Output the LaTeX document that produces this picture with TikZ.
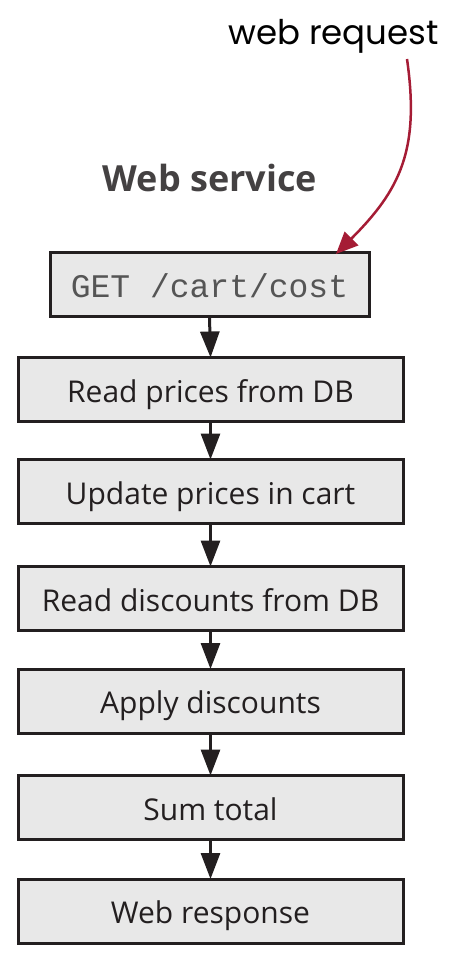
\documentclass[tikz,border=0pt]{standalone}
\usepackage{fontspec}
\setmainfont{Open Sans}
\newfontfamily\monof{Liberation Mono}
\newfontfamily\handf{Poppins}
\usetikzlibrary{arrows.meta}
\definecolor{boxfill}{HTML}{E8E8E8}
\definecolor{boxline}{HTML}{231F20}
\definecolor{txt}{HTML}{231F20}
\definecolor{reqred}{HTML}{A51C35}
\definecolor{monogray}{HTML}{555555}
\tikzset{
  stepbox/.style={draw=boxline, line width=3pt, fill=boxfill, minimum width=385pt, minimum height=64pt, inner sep=0pt, text height=28pt, text depth=3pt, text=txt, font=\fontsize{30}{32}\selectfont},
  getbox/.style={stepbox, minimum width=319pt, minimum height=63pt, text=monogray, font=\monof\fontsize{33}{35}\selectfont},
  flow/.style={draw=boxline, line width=3pt, -{Triangle[length=26pt,width=19pt]}, shorten >=-1.5pt},
}
\begin{document}
\begin{tikzpicture}[x=1pt,y=1pt]
\useasboundingbox (0,0) rectangle (466,-965);
\node[font=\handf\fontsize{34}{36}\selectfont, text=black, anchor=base] (req) at (333.5,-45) {web request};
\node[font=\bfseries\fontsize{36}{38}\selectfont, text=txt!85!white, anchor=base] (ws) at (210,-192) {Web service};
\node[getbox] (get) at (209.5,-284.5) {GET /cart/cost};
\node[stepbox] (b1) at (210.5,-389.5) {Read prices from DB};
\node[stepbox] (b2) at (210.5,-491.5) {Update prices in cart};
\node[stepbox] (b3) at (210.5,-598.5) {Read discounts from DB};
\node[stepbox] (b4) at (210.5,-701) {Apply discounts};
\node[stepbox] (b5) at (210.5,-807.5) {Sum total};
\node[stepbox] (b6) at (210.5,-911) {Web response};
\coordinate (rs) at (407,-59);
\coordinate (re) at (336,-254);
\draw[reqred, line width=2.5pt, -{Triangle[length=22pt,width=19pt]}] (rs) .. controls (420,-150) and (400,-190) .. (re);
\draw[flow] (get.south) -- (b1.north);
\draw[flow] (b1.south) -- (b2.north);
\draw[flow] (b2.south) -- (b3.north);
\draw[flow] (b3.south) -- (b4.north);
\draw[flow] (b4.south) -- (b5.north);
\draw[flow] (b5.south) -- (b6.north);
\end{tikzpicture}
\end{document}
